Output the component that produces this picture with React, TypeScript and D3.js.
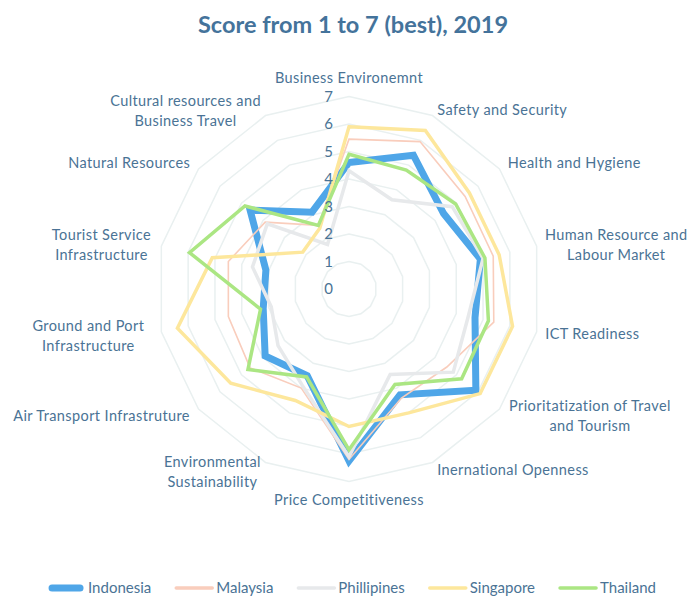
import React from 'react';
import * as d3 from 'd3';

const categories: string[] = [
  'Business Environemnt',
  'Safety and Security',
  'Health and Hygiene',
  'Human Resource and\nLabour Market',
  'ICT Readiness',
  'Prioritatization of Travel\nand Tourism',
  'Inernational Openness',
  'Price Competitiveness',
  'Environmental\nSustainability',
  'Air Transport Infrastruture',
  'Ground and Port\nInfrastructure',
  'Tourist Service\nInfrastructure',
  'Natural Resources',
  'Cultural resources and\nBusiness Travel',
];

const seriesNames = ['Indonesia', 'Malaysia', 'Phillipines', 'Singapore', 'Thailand'];
const indonesia = [4.6, 5.4, 4.4, 4.9, 4.7, 5.9, 4.27, 6.25, 3.5, 3.9, 3.2, 3.1, 4.6, 3.1];
const malaysia = [5.45, 5.95, 5.4, 5.38, 5.4, 4.55, 4.4, 6.2, 4.0, 4.6, 4.5, 4.5, 3.9, 2.57];
const philippines = [4.3, 3.6, 4.8, 5.0, 4.45, 4.85, 3.45, 6.1, 3.9, 3.3, 2.9, 3.6, 3.8, 1.8];
const singapore = [5.9, 6.4, 5.6, 5.6, 6.1, 6.1, 5.0, 5.0, 4.5, 5.5, 6.4, 5.1, 2.15, 2.45];
const thailand = [4.9, 4.8, 4.96, 5.07, 5.2, 5.24, 3.85, 5.85, 3.55, 4.7, 3.3, 5.95, 4.84, 2.57];
const ticks = [0, 1, 2, 3, 4, 5, 6, 7];

const seriesValues = [indonesia, malaysia, philippines, singapore, thailand];
const seriesColors = ['#4fa6e8', '#f9cdbc', '#e7e9eb', '#fde79c', '#abe683'];
const seriesWidths = [7, 1.6, 3.5, 3.5, 3.5];

const W = 700;
const H = 606;
const CX = 349;
const CY = 289;
const R = 192.5;
const FONT = 'Lato, "Open Sans", sans-serif';
const TEXT = '#4a7395';

// label placement tweaks (layout only)
const labelRadius = [211, 203, 203, 201, 201, 204, 203, 211, 203, 203, 210, 203, 203, 203];
const labelDy = [0, 4, 0, 1, 0, 0, -2, 0, 0, 0, 0, 1, 0, 5];

let canvas: HTMLCanvasElement | null = null;
function measure(text: string, font: string, spacing = 0): number {
  if (!canvas) canvas = document.createElement('canvas');
  const ctx = canvas.getContext('2d')!;
  ctx.font = font;
  return ctx.measureText(text).width + spacing * text.length;
}

export default function App() {
  const n = categories.length;
  const r = d3.scaleLinear().domain([0, 7]).range([0, R]);
  const angle = (i: number) => (i * 2 * Math.PI) / n;
  const radial = d3
    .lineRadial<number>()
    .angle((_d, i) => angle(i))
    .radius((d) => r(d))
    .curve(d3.curveLinearClosed);

  const labelFontSize = 14.5;
  const labelSpacing = 0.4;
  const labelFont = `${labelFontSize}px Lato`;
  const lineH = 20;

  const labels = categories.map((c, i) => {
    const lines = c.split('\n');
    const a = angle(i);
    const sx = Math.sin(a);
    const sy = -Math.cos(a);
    const widths = lines.map((l) => measure(l, labelFont, labelSpacing));
    const bw = Math.max(...widths);
    const rr = labelRadius[i];
    let cx: number;
    if (Math.abs(sx) < 0.01) {
      cx = CX + sx * rr;
    } else if (sx > 0) {
      cx = CX + sx * rr + bw / 2;
    } else {
      cx = CX + sx * rr - bw / 2;
    }
    const cy = CY + sy * rr + labelDy[i];
    const y0 = cy - ((lines.length - 1) * lineH) / 2;
    return { lines, cx, y0 };
  });

  // legend layout
  const legFont = '15px Lato';
  const swW = 36;
  const gapT = 4;
  const gapI = 25;
  const items = seriesNames.map((s) => measure(s, legFont));
  const total = items.reduce((acc, w) => acc + swW + gapT + w, 0) + gapI * (items.length - 1);
  let lx = 352 - total / 2;
  const legendItems = items.map((w) => {
    const it = { x: lx, w };
    lx += swW + gapT + w + gapI;
    return it;
  });
  const LY = 588;

  return (
    <svg
      width={W}
      height={H}
      style={{ position: 'absolute', left: 0, top: 0, background: '#fff' }}
      fontFamily={FONT}
    >
      <rect x={0} y={0} width={W} height={H} fill="#fff" />
      <text
        x={353}
        y={33}
        textAnchor="middle"
        fontSize={23.5}
        fontWeight="bold"
        fill="#44739b"
      >
        Score from 1 to 7 (best), 2019
      </text>
      <g transform={`translate(${CX},${CY})`}>
        {ticks.slice(1).map((t) => (
          <path
            key={t}
            d={radial(d3.range(n).map(() => t)) || ''}
            fill="none"
            stroke="#e9f0f0"
            strokeWidth={1.5}
          />
        ))}
        {seriesValues.map((vals, si) => (
          <path
            key={si}
            d={radial(vals) || ''}
            fill="none"
            stroke={seriesColors[si]}
            strokeWidth={seriesWidths[si]}
            strokeLinejoin="miter"
          />
        ))}
        {ticks.map((t) => (
          <text
            key={t}
            x={-16}
            y={-r(t)}
            dy="0.35em"
            textAnchor="end"
            fontSize={15}
            fill={TEXT}
          >
            {t}
          </text>
        ))}
      </g>
      {labels.map((l, i) => (
        <text
          key={i}
          textAnchor="middle"
          fontSize={labelFontSize}
          letterSpacing={labelSpacing}
          fill={TEXT}
        >
          {l.lines.map((ln, j) => (
            <tspan key={j} x={l.cx} y={l.y0 + j * lineH} dy="0.35em">
              {ln}
            </tspan>
          ))}
        </text>
      ))}
      {legendItems.map((it, i) => (
        <g key={i}>
          <line
            x1={it.x + (i === 0 ? 4 : 0)}
            x2={it.x + swW - (i === 0 ? 4 : 0)}
            y1={LY}
            y2={LY}
            stroke={seriesColors[i]}
            strokeWidth={seriesWidths[i] === 7 ? 7 : 3.5}
            strokeLinecap="round"
          />
          <text x={it.x + swW + gapT} y={LY} dy="0.35em" fontSize={15} fill={TEXT}>
            {seriesNames[i]}
          </text>
        </g>
      ))}
    </svg>
  );
}
